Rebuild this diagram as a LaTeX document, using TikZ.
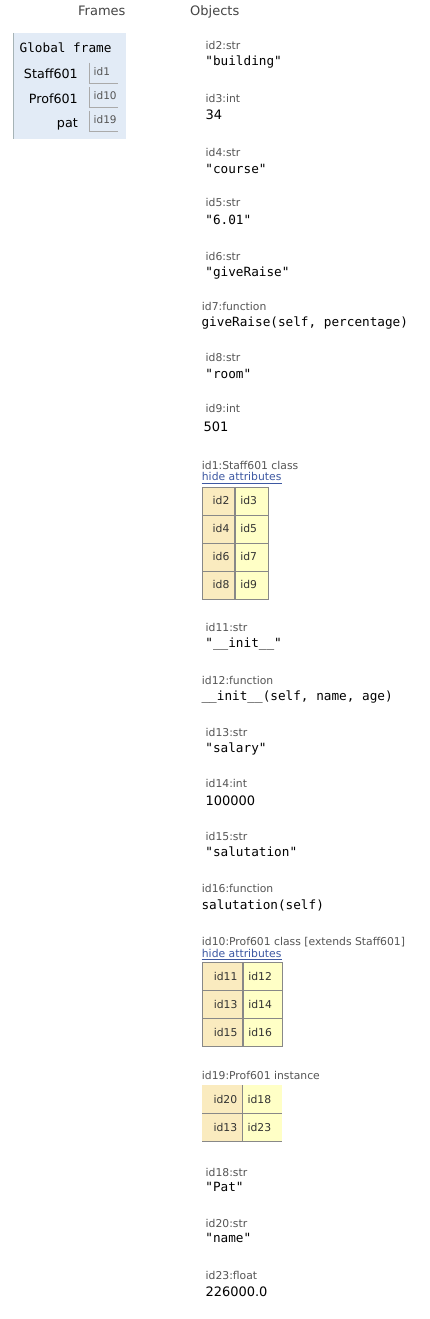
\documentclass[tikz,border=0pt]{standalone}
\usepackage{fontspec}
\setmainfont{DejaVu Sans}
\setmonofont{DejaVu Sans Mono}
\definecolor{frameblue}{HTML}{E2EBF6}
\definecolor{framegray}{HTML}{A6B3B6}
\definecolor{cellline}{HTML}{AAAAAA}
\definecolor{keyfill}{HTML}{FAEBBF}
\definecolor{valfill}{HTML}{FFFFC6}
\definecolor{tblline}{HTML}{888888}
\definecolor{labelgray}{HTML}{555555}
\definecolor{hdrgray}{HTML}{444444}
\definecolor{linkblue}{HTML}{3D58A2}
\tikzset{
  hdr/.style={anchor=base west, inner sep=0, text=hdrgray, font=\fontsize{13}{15}\selectfont},
  lbl/.style={anchor=base west, inner sep=0, text=labelgray, font=\fontsize{10.8}{12}\selectfont},
  codev/.style={anchor=base west, inner sep=0, text=black, font=\ttfamily\fontsize{12.7}{14}\selectfont},
  numv/.style={anchor=base west, inner sep=0, text=black, font=\fontsize{13}{15}\selectfont},
  varname/.style={anchor=base east, inner sep=0, text=black, font=\fontsize{12.7}{14}\selectfont},
  refv/.style={anchor=base west, inner sep=0, text=labelgray, font=\fontsize{10.5}{12}\selectfont},
  hidelink/.style={anchor=base west, inner sep=0, text=linkblue, font=\fontsize{10.8}{12}\selectfont},
  fcell/.style={anchor=north west, inner sep=0, minimum width=29, minimum height=20},
  keycell/.style={anchor=north west, fill=keyfill, inner xsep=5pt, inner ysep=0pt, minimum height=28,
     align=right, text=black!80, font=\fontsize{10.8}{12}\selectfont, text height=8pt, text depth=0pt},
  valcell/.style={anchor=north west, fill=valfill, inner xsep=5pt, inner ysep=0pt, minimum height=28,
     align=left, text=black!80, font=\fontsize{10.8}{12}\selectfont, text height=8pt, text depth=0pt},
  bordered/.style={draw=tblline, line width=0.9pt},
  instline/.style={draw=tblline, line width=1.1pt},
}
\begin{document}
\begin{tikzpicture}[x=1pt,y=-1pt]
\useasboundingbox (0,0) rectangle (430,1319);
\fill[white] (0,0) rectangle (430,1319);

% headers
\node[hdr] (frames) at (78,16) {Frames};
\node[hdr] (objects) at (190,16) {Objects};

% global frame
\node[anchor=north west, fill=frameblue, inner sep=0, minimum width=113, minimum height=106] (gf) at (13,33) {};
\draw[framegray, line width=0.9pt] (gf.north west) -- (gf.south west);
\node[codev] (gftitle) at (19.5,52.7) {Global frame};
\node[varname] (vStaff) at (78,79) {Staff601};
\node[varname] (vProf) at (78,103.3) {Prof601};
\node[varname] (vPat) at (78,127.5) {pat};
\node[fcell] (fc1) at (89,63) {};
\node[fcell] (fc2) at (89,87) {};
\node[fcell] (fc3) at (89,111) {};
\foreach \c in {fc1,fc2,fc3}{
  \draw[cellline, line width=0.9pt] (\c.north west) -- (\c.south west) -- (\c.south east);
}
\node[refv] (r1) at (93.5,76) {id1};
\node[refv] (r10) at (93.5,100) {id10};
\node[refv] (r19) at (93.5,124) {id19};

% objects
\node[lbl] (o2l) at (205.5,49.5) {id2:str};
\node[codev] (o2v) at (205.2,66) {"building"};
\node[lbl] (o3l) at (205.5,102.7) {id3:int};
\node[numv] (o3v) at (205.3,120) {34};
\node[lbl] (o4l) at (205.5,156.7) {id4:str};
\node[codev] (o4v) at (205.2,173) {"course"};
\node[lbl] (o5l) at (205.5,206.7) {id5:str};
\node[codev] (o5v) at (205.2,224.5) {"6.01"};
\node[lbl] (o6l) at (205.5,260) {id6:str};
\node[codev] (o6v) at (205.2,276) {"giveRaise"};
\node[lbl] (o7l) at (201.7,310.7) {id7:function};
\node[codev] (o7v) at (201.4,326.5) {giveRaise(self, percentage)};
\node[lbl] (o8l) at (205.5,361) {id8:str};
\node[codev] (o8v) at (205.2,378) {"room"};
\node[lbl] (o9l) at (205.5,412.7) {id9:int};
\node[numv] (o9v) at (203.5,431.7) {501};

% Staff601 class
\node[lbl] (c1l) at (201.7,469) {id1:Staff601 class};
\node[hidelink] (c1h) at (201.7,480.7) {hide attributes};
\draw[linkblue, line width=0.7pt] ([yshift=-1.8pt]c1h.south west) -- ([yshift=-1.8pt]c1h.south east);
\foreach \i/\k/\v in {0/id2/id3,1/id4/id5,2/id6/id7,3/id8/id9}{
  \node[keycell, bordered, text width=22pt] (sk\i) at (202,486.5+28*\i) {\k};
  \node[valcell, bordered, text width=23pt] (sv\i) at (sk\i.north east) {\v};
}

\node[lbl] (o11l) at (205.5,631.7) {id11:str};
\node[codev] (o11v) at (205.2,647) {"\_\_init\_\_"};
\node[lbl] (o12l) at (201.7,684) {id12:function};
\node[codev] (o12v) at (201.4,700.7) {\_\_init\_\_(self, name, age)};
\node[lbl] (o13l) at (205.5,736) {id13:str};
\node[codev] (o13v) at (205.2,752.7) {"salary"};
\node[lbl] (o14l) at (205.5,787.3) {id14:int};
\node[numv] (o14v) at (205.3,805) {100000};
\node[lbl] (o15l) at (205.5,840) {id15:str};
\node[codev] (o15v) at (205.2,856.7) {"salutation"};
\node[lbl] (o16l) at (201.7,892.7) {id16:function};
\node[codev] (o16v) at (201.4,909.3) {salutation(self)};

% Prof601 class
\node[lbl] (c10l) at (201.7,945) {id10:Prof601 class [extends Staff601]};
\node[hidelink] (c10h) at (201.7,957.3) {hide attributes};
\draw[linkblue, line width=0.7pt] ([yshift=-1.8pt]c10h.south west) -- ([yshift=-1.8pt]c10h.south east);
\foreach \i/\k/\v in {0/id11/id12,1/id13/id14,2/id15/id16}{
  \node[keycell, bordered, text width=30pt] (pk\i) at (202,962+28*\i) {\k};
  \node[valcell, bordered, text width=29pt] (pv\i) at (pk\i.north east) {\v};
}

% Prof601 instance
\node[lbl] (i19l) at (201.7,1079) {id19:Prof601 instance};
\foreach \i/\k/\v in {0/id20/id18,1/id13/id23}{
  \node[keycell, text width=30pt] (ik\i) at (202,1085+28*\i) {\k};
  \node[valcell, text width=29pt] (iv\i) at (ik\i.north east) {\v};
}
\draw[instline] (ik0.north east) -- (ik1.south east);
\draw[instline] (ik0.south west) -- (iv0.south east);
\draw[instline] (ik1.south west) -- (iv1.south east);

\node[lbl] (o18l) at (205.5,1176) {id18:str};
\node[codev] (o18v) at (205.2,1191) {"Pat"};
\node[lbl] (o20l) at (205.5,1227.3) {id20:str};
\node[codev] (o20v) at (205.2,1242.7) {"name"};
\node[lbl] (o23l) at (205.5,1279.3) {id23:float};
\node[numv] (o23v) at (205.3,1296.7) {226000.0};
\end{tikzpicture}
\end{document}
